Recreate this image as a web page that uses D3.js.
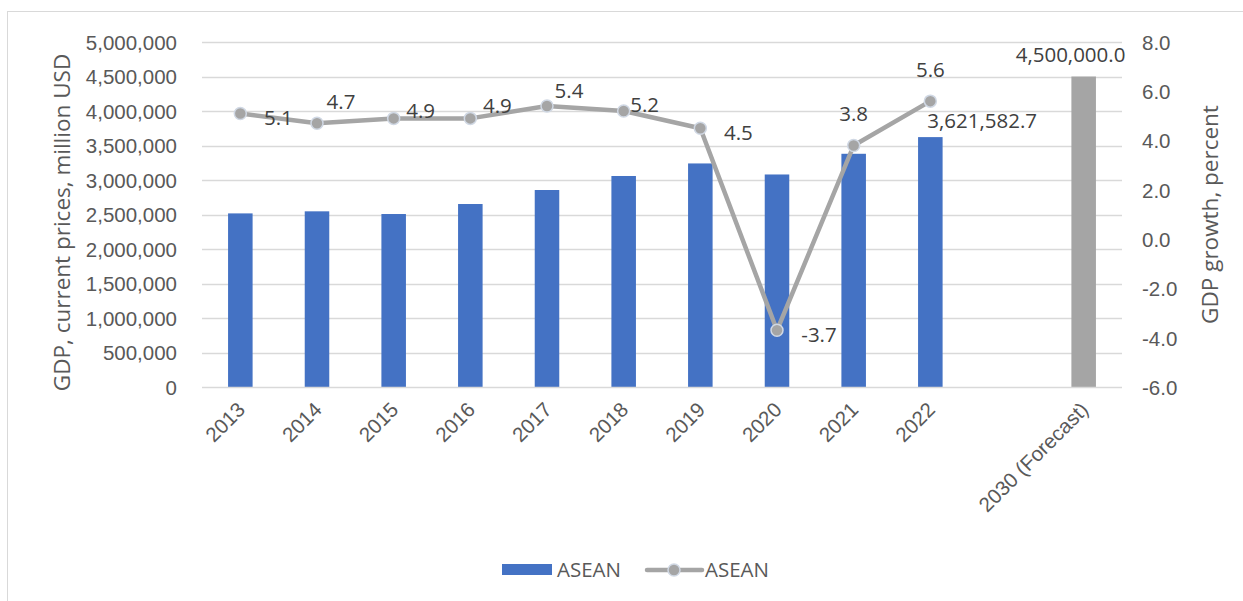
<!DOCTYPE html>
<html>
<head>
<meta charset="utf-8">
<script src="https://cdn.jsdelivr.net/npm/d3@7"></script>
<style>
  html, body { margin: 0; padding: 0; background: #fff; }
  svg { display: block; font-family: "Open Sans", "Noto Sans", sans-serif; }
</style>
</head>
<body>
<svg id="chart" width="1243" height="601"></svg>
<script>
// ---- data ----
const categories = ["2013","2014","2015","2016","2017","2018","2019","2020","2021","2022","","2030 (Forecast)"];
const gdpValues = [2516000, 2546000, 2507000, 2652000, 2855000, 3058000, 3240000, 3080000, 3380000, 3621582.7, null, 4500000];
const growthValues = [5.1, 4.7, 4.9, 4.9, 5.4, 5.2, 4.5, -3.7, 3.8, 5.6, null, null];
const leftTicks = [0, 500000, 1000000, 1500000, 2000000, 2500000, 3000000, 3500000, 4000000, 4500000, 5000000];
const rightTicks = [-6, -4, -2, 0, 2, 4, 6, 8];
const barLabels = ["", "", "", "", "", "", "", "", "", "3,621,582.7", "", "4,500,000.0"];
const seriesNames = ["ASEAN", "ASEAN"];

// ---- styling / label placement ----
const growthLabelOffsets = [[38,4],[24,-22],[27,-8],[27,-13],[22,-15],[21,-6],[38,4],[42,4],[0,-32],[0,-32],null,null];
const barLabelOffsets = [null,null,null,null,null,null,null,null,null,[-3,-16],null,[-68,-22]];
const FS = "20.5px";
const fmt1 = v => d3.format(".1f")(v).replace("\u2212", "-");

const svg = d3.select("#chart");
const m = { left: 202, right: 1122, top: 42, bottom: 387 };

svg.append("rect").attr("x", 7.5).attr("y", 11.5).attr("width", 1300).attr("height", 700)
  .attr("fill", "#fff").attr("stroke", "#d9d9d9").attr("stroke-width", 1);

const x = d3.scaleBand().domain(categories).range([m.left, m.right]).paddingInner(0).paddingOuter(0);
const yL = d3.scaleLinear().domain([0, 5000000]).range([m.bottom, m.top]);
const yR = d3.scaleLinear().domain([-6, 8]).range([m.bottom, m.top]);

// gridlines
svg.append("g").selectAll("line").data(leftTicks.filter(t => t > 0)).join("line")
  .attr("x1", m.left).attr("x2", m.right)
  .attr("y1", d => Math.round(yL(d)) + 0.5).attr("y2", d => Math.round(yL(d)) + 0.5)
  .attr("stroke", "#d9d9d9").attr("stroke-width", 1.3);

// left axis
const axL = svg.append("g").attr("transform", `translate(${m.left - 25},0)`)
  .call(d3.axisLeft(yL).tickValues(leftTicks).tickSize(0).tickPadding(0).tickFormat(d3.format(",")));
axL.select(".domain").remove();
axL.selectAll("text").attr("fill", "#595959").style("font-size", FS).attr("dy", "0.36em");

// right axis
const axR = svg.append("g").attr("transform", `translate(${m.right + 20},0)`)
  .call(d3.axisRight(yR).tickValues(rightTicks).tickSize(0).tickPadding(0).tickFormat(fmt1));
axR.select(".domain").remove();
axR.selectAll("text").attr("fill", "#595959").style("font-size", FS).attr("dy", "0.36em");

// bars
const bw = x.bandwidth() * 0.32;
const barData = categories.map((c, i) => ({ c, v: gdpValues[i], i })).filter(d => d.v != null);
svg.append("g").selectAll("rect").data(barData).join("rect")
  .attr("x", d => x(d.c) + x.bandwidth() / 2 - bw / 2)
  .attr("width", bw)
  .attr("y", d => yL(d.v))
  .attr("height", d => yL(0) - yL(d.v))
  .attr("fill", d => d.c.indexOf("Forecast") >= 0 ? "#a5a5a5" : "#4472c4");

// bottom axis line
svg.append("line").attr("x1", m.left).attr("x2", m.right)
  .attr("y1", m.bottom + 0.5).attr("y2", m.bottom + 0.5)
  .attr("stroke", "#d9d9d9").attr("stroke-width", 1.5);

// x labels
const axX = svg.append("g").attr("transform", `translate(0,${m.bottom})`)
  .call(d3.axisBottom(x).tickSize(0).tickPadding(0));
axX.select(".domain").remove();
axX.selectAll("text")
  .attr("fill", "#595959").style("font-size", FS)
  .attr("text-anchor", "end")
  .attr("dy", null).attr("y", 0)
  .attr("transform", "translate(6,24) rotate(-45)");

// line
const lineData = categories.map((c, i) => ({ c, v: growthValues[i], i })).filter(d => d.v != null);
const cx = d => x(d.c) + x.bandwidth() / 2;
svg.append("path").datum(lineData)
  .attr("d", d3.line().x(cx).y(d => yR(d.v)))
  .attr("fill", "none").attr("stroke", "#a5a5a5").attr("stroke-width", 4.5).attr("stroke-linejoin", "round");
svg.append("g").selectAll("circle").data(lineData).join("circle")
  .attr("cx", cx).attr("cy", d => yR(d.v)).attr("r", 6)
  .attr("fill", "#a5a5a5").attr("stroke", "#d0d8e4").attr("stroke-width", 1.5);

// line labels
svg.append("g").selectAll("text").data(lineData).join("text")
  .attr("x", d => cx(d) + growthLabelOffsets[d.i][0])
  .attr("y", d => yR(d.v) + growthLabelOffsets[d.i][1])
  .attr("text-anchor", "middle").attr("dy", "0.36em")
  .attr("fill", "#404040").style("font-size", FS)
  .text(d => fmt1(d.v));

// bar labels
svg.append("g").selectAll("text").data(barData.filter(d => barLabels[d.i])).join("text")
  .attr("x", d => cx(d) + barLabelOffsets[d.i][0])
  .attr("y", d => yL(d.v) + barLabelOffsets[d.i][1])
  .attr("text-anchor", "start").attr("dy", "0.36em")
  .attr("fill", "#404040").style("font-size", FS)
  .text(d => barLabels[d.i]);

// axis titles
svg.append("text").attr("transform", `translate(70,${(m.top + m.bottom) / 2 + 8}) rotate(-90)`)
  .attr("text-anchor", "middle").attr("fill", "#595959").style("font-size", "22.5px")
  .text("GDP, current prices, million USD");
svg.append("text").attr("transform", `translate(1218,${(m.top + m.bottom) / 2}) rotate(-90)`)
  .attr("text-anchor", "middle").attr("fill", "#595959").style("font-size", "22.5px")
  .text("GDP growth, percent");

// legend
const lg = svg.append("g");
lg.append("rect").attr("x", 502).attr("y", 564).attr("width", 50).attr("height", 11).attr("fill", "#4472c4");
lg.append("text").attr("x", 557).attr("y", 570).attr("dy", "0.36em").attr("fill", "#595959")
  .style("font-size", FS).text(seriesNames[0]);
lg.append("line").attr("x1", 647).attr("x2", 702).attr("y1", 570).attr("y2", 570)
  .attr("stroke", "#a5a5a5").attr("stroke-width", 4.5).attr("stroke-linecap", "round");
lg.append("circle").attr("cx", 674).attr("cy", 570).attr("r", 6)
  .attr("fill", "#a5a5a5").attr("stroke", "#d0d8e4").attr("stroke-width", 1.5);
lg.append("text").attr("x", 705).attr("y", 570).attr("dy", "0.36em").attr("fill", "#595959")
  .style("font-size", FS).text(seriesNames[1]);
</script>
</body>
</html>
